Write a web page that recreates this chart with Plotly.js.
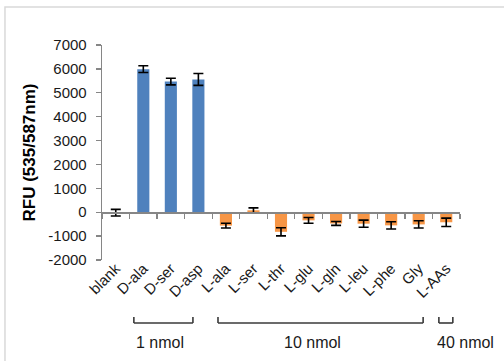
<!DOCTYPE html>
<html>
<head>
<meta charset="utf-8">
<script src="https://cdn.plot.ly/plotly-3.0.1.min.js"></script>
<style>
html,body{margin:0;padding:0;background:#fff;}
#chart{width:504px;height:361px;}
</style>
</head>
<body>
<div id="chart"></div>
<script>
// ---- data ----
var categories = ["blank","D-ala","D-ser","D-asp","L-ala","L-ser","L-thr","L-glu","L-gln","L-leu","L-phe","Gly","L-AAs"];
var rfu        = [-20, 5990, 5470, 5560, -560, 80, -820, -340, -470, -480, -550, -510, -420];
var rfuErr     = [140, 140, 140, 250, 100, 100, 170, 120, 80, 150, 150, 150, 175];
var yTicks     = [-2000,-1000,0,1000,2000,3000,4000,5000,6000,7000];
var groupLabels = ["1 nmol","10 nmol","40 nmol"];

var BLUE = "#4f81bd", ORANGE = "#f79646", AXIS = "#868686";
var colors = categories.map(function(c){ return c.indexOf("D-")===0 ? BLUE : ORANGE; });

var bars = {
  type: "bar", x: categories, y: rfu, xaxis: "x", yaxis: "y",
  marker: {color: colors, line: {width: 0}},
  error_y: {type: "data", array: rfuErr, visible: true, color: "#000", thickness: 1.6, width: 5},
  hoverinfo: "x+y"
};
// invisible carrier trace so the zero-line category axis is drawn
var carrier = {type: "scatter", mode: "none", x: categories, y: rfu, xaxis: "x2", yaxis: "y", hoverinfo: "skip", showlegend: false};

var font = "Arial, 'Liberation Sans', sans-serif";

function bracket(x0, x1){
  var yTop = -0.265, yBot = -0.293, ln = {color: "#3a3a3a", width: 1.6};
  return [
    {type:"line", xref:"paper", yref:"paper", x0:x0, x1:x0, y0:yTop, y1:yBot, line:ln},
    {type:"line", xref:"paper", yref:"paper", x0:x0, x1:x1, y0:yBot, y1:yBot, line:ln},
    {type:"line", xref:"paper", yref:"paper", x0:x1, x1:x1, y0:yTop, y1:yBot, line:ln}
  ];
}
var shapes = [].concat(bracket(0.089, 0.254), bracket(0.324, 0.897), bracket(0.941, 0.980));
shapes.push({type:"rect", xref:"paper", yref:"paper", x0:-0.271, x1:1.3, y0:1.177, y1:-0.8,
             line:{color:"#d9d9d9", width:1.5}, fillcolor:"rgba(0,0,0,0)", layer:"below"});

var annX = [0.162, 0.587, 1.014];
var annotations = groupLabels.map(function(t, i){
  return {text: t, xref:"paper", yref:"paper", x: annX[i], y: -0.386, showarrow:false,
          xanchor:"center", yanchor:"middle", font:{family:font, size:16, color:"#1a1a1a"}};
});

var layout = {
  width: 504, height: 361,
  margin: {l: 102, r: 44, t: 45, b: 101, pad: 0},
  paper_bgcolor: "#fff", plot_bgcolor: "#fff",
  showlegend: false,
  bargap: 0.56,
  font: {family: font, size: 15, color: "#1a1a1a"},
  xaxis: {
    type: "category", range: [-0.5, 12.5], showline: false, ticks: "", showgrid: false, zeroline: false,
    tickangle: -45, ticklabelstandoff: -4, tickfont: {family: font, size: 15, color: "#1a1a1a"}, automargin: false
  },
  xaxis2: {
    type: "category", overlaying: "x", anchor: "free", position: 2000/9000, range: [-0.5, 12.5],
    showline: true, linecolor: AXIS, linewidth: 1.3, ticks: "outside", tickson: "boundaries",
    ticklen: 5, tickcolor: AXIS, tickwidth: 1.3, showticklabels: false, showgrid: false, zeroline: false
  },
  yaxis: {
    range: [-2000, 7000], tickvals: yTicks, ticktext: yTicks.map(String),
    showline: true, linecolor: AXIS, linewidth: 1.3, ticks: "outside", ticklen: 5, tickcolor: AXIS, tickwidth: 1.3,
    showgrid: false, zeroline: false, ticklabelstandoff: 6,
    tickfont: {family: font, size: 15, color: "#1a1a1a"}, automargin: false,
    title: {text: "RFU (535/587nm)", standoff: 8, font: {family: font, size: 17, color: "#000", weight: "bold"}}
  },
  shapes: shapes,
  annotations: annotations
};

Plotly.newPlot("chart", [bars, carrier], layout, {displayModeBar: false, staticPlot: true});
</script>
</body>
</html>
